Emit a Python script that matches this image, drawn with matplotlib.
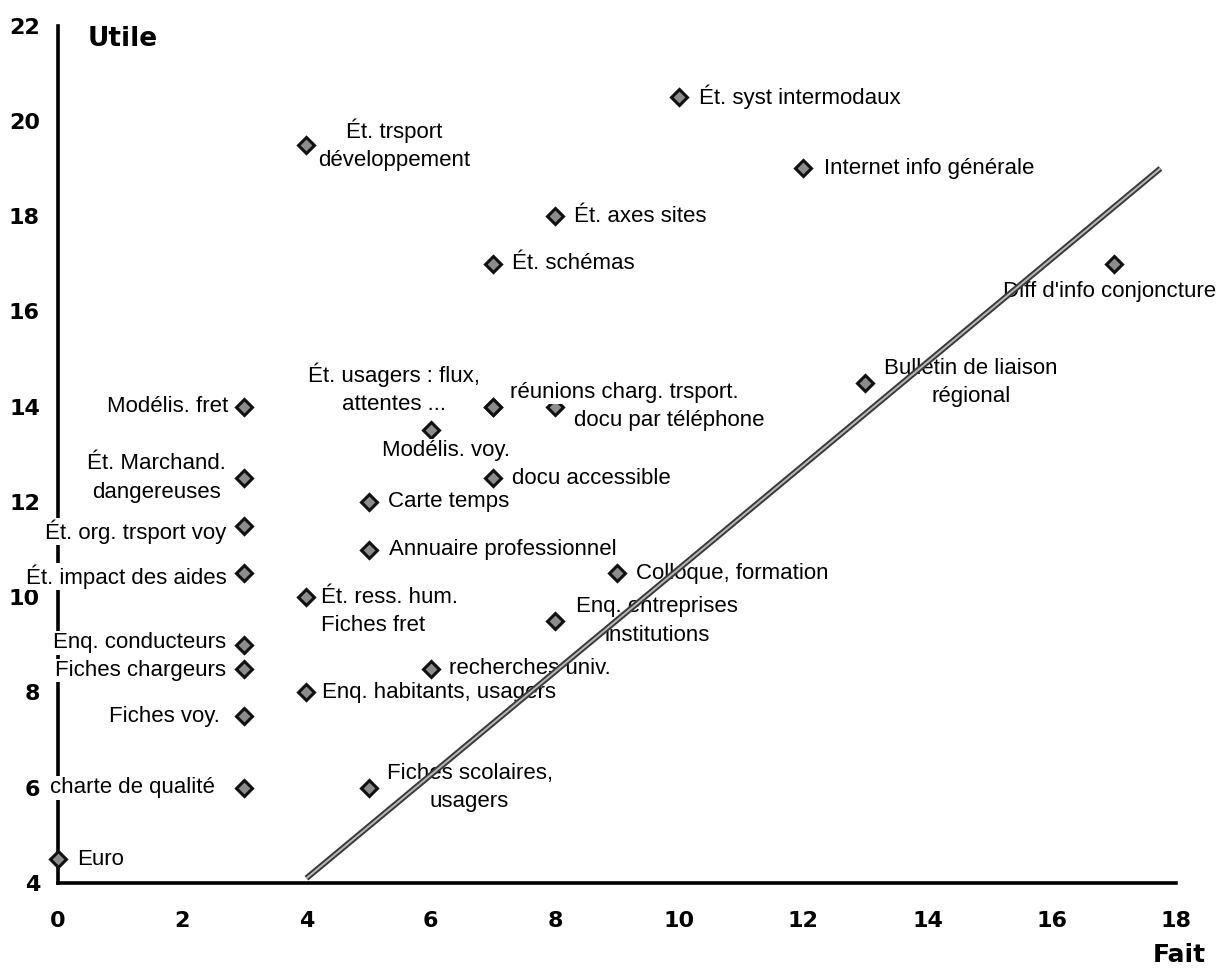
import matplotlib
matplotlib.use("Agg")
import matplotlib.pyplot as plt
import matplotlib.patheffects as pe

# ---- data ----
fait = [0, 3, 3, 3, 3, 3, 3, 3, 3,
        4, 4, 4, 5, 5, 5, 6, 6, 7, 7, 8,
        7, 7, 8, 10, 12, 17, 13, 9, 8]
utile = [4.5, 6, 7.5, 8.5, 9, 10.5, 11.5, 12.5, 14,
         19.5, 10, 8, 6, 12, 11, 13.5, 8.5, 14, 14, 14,
         12.5, 17, 18, 20.5, 19, 17, 14.5, 10.5, 9.5]
labels = ["Euro", "charte de qualité", "Fiches voy.", "Fiches chargeurs",
          "Enq. conducteurs", "Ét. impact des aides", "Ét. org. trsport voy",
          "Ét. Marchand.\ndangereuses", "Modélis. fret",
          "Ét. trsport\ndéveloppement", "Ét. ress. hum.\nFiches fret",
          "Enq. habitants, usagers", "Fiches scolaires,\nusagers", "Carte temps",
          "Annuaire professionnel", "Modélis. voy.", "recherches univ.",
          "Ét. usagers : flux,\nattentes ...", "réunions charg. trsport.",
          "docu par téléphone", "docu accessible", "Ét. schémas", "Ét. axes sites",
          "Ét. syst intermodaux", "Internet info générale",
          "Diff d'info conjoncture", "Bulletin de liaison\nrégional",
          "Colloque, formation", "Enq. entreprises\ninstitutions"]
line_fait = [4.0, 17.75]
line_utile = [4.1, 19.0]
xticks = [0, 2, 4, 6, 8, 10, 12, 14, 16, 18]
yticks = [4, 6, 8, 10, 12, 14, 16, 18, 20, 22]

# ---- label placement (pixel offsets from the marker, horizontal alignment, multi-line alignment) ----
placement = [
    (19, 0, "left", "left"), (-29, 0, "right", "right"), (-24, 0, "right", "right"),
    (-18, -2, "right", "right"), (-18, 2, "right", "right"), (-18, -3, "right", "right"),
    (-18, -6, "right", "right"), (-18, 0, "right", "center"), (-16, 0, "right", "right"),
    (12, 0, "left", "center"), (15, -14, "left", "left"), (16, 0, "left", "left"),
    (18, 0, "left", "center"), (19, 0, "left", "left"), (20, 0, "left", "left"),
    (15, -20, "center", "center"), (18, 0, "left", "left"),
    (-13, 18, "right", "center"), (17, 14, "left", "left"),
    (19, -14, "left", "left"), (19, 0, "left", "left"), (19, 0, "left", "left"),
    (19, 0, "left", "left"), (20, 0, "left", "left"), (21, 0, "left", "left"),
    (-4, -28, "center", "center"), (19, 0, "left", "center"),
    (19, 0, "left", "left"), (21, 0, "left", "center"),
]

W, H = 1219, 968
fig = plt.figure(figsize=(W / 100, H / 100), dpi=100)
ax = fig.add_axes([58 / W, 1 - 883 / H, (1176 - 58) / W, (883 - 25.5) / H])
ax.set_xlim(0, 18)
ax.set_ylim(4, 22)

for s in ["top", "right"]:
    ax.spines[s].set_visible(False)
for s in ["left", "bottom"]:
    ax.spines[s].set_linewidth(2.6)
    ax.spines[s].set_color("black")
    ax.spines[s].set_zorder(1.5)

ax.set_xticks(xticks)
ax.set_yticks(yticks)
ax.set_xticklabels([str(v) for v in xticks])
ax.set_yticklabels([str(v) for v in yticks])
ax.tick_params(axis="both", length=0, labelsize=16)
ax.tick_params(axis="x", pad=20)
ax.tick_params(axis="y", pad=13)
for t in ax.get_xticklabels() + ax.get_yticklabels():
    t.set_fontfamily("DejaVu Sans")
    t.set_fontweight("bold")

ax.plot(fait, utile, ls="none", marker="D", ms=8.5, mfc="#8c8c8c", mec="#111111",
        mew=2.2, zorder=3, clip_on=False)

for x, y, lab, (dx, dy, ha, ma) in zip(fait, utile, labels, placement):
    ax.annotate(lab, (x, y), xytext=(dx * 0.72, dy * 0.72), textcoords="offset points",
                ha=ha, va="center", multialignment=ma, fontsize=16,
                family="Liberation Sans", linespacing=1.45, zorder=4,
                bbox=dict(facecolor="white", edgecolor="none", pad=1.0),
                annotation_clip=False)

ax.plot(line_fait, line_utile, color="#b8b8b8", lw=1.4, zorder=5, solid_capstyle="butt",
        path_effects=[pe.Stroke(linewidth=4.2, foreground="#3a3a3a"), pe.Normal()])

fig.text(88 / W, 1 - 39 / H, "Utile", ha="left", va="center", fontsize=19,
         family="DejaVu Sans", fontweight="bold")
fig.text(1179 / W, 1 - 955 / H, "Fait", ha="center", va="center", fontsize=18,
         family="DejaVu Sans", fontweight="bold")

fig.savefig("out.png", dpi=100, facecolor="white")
